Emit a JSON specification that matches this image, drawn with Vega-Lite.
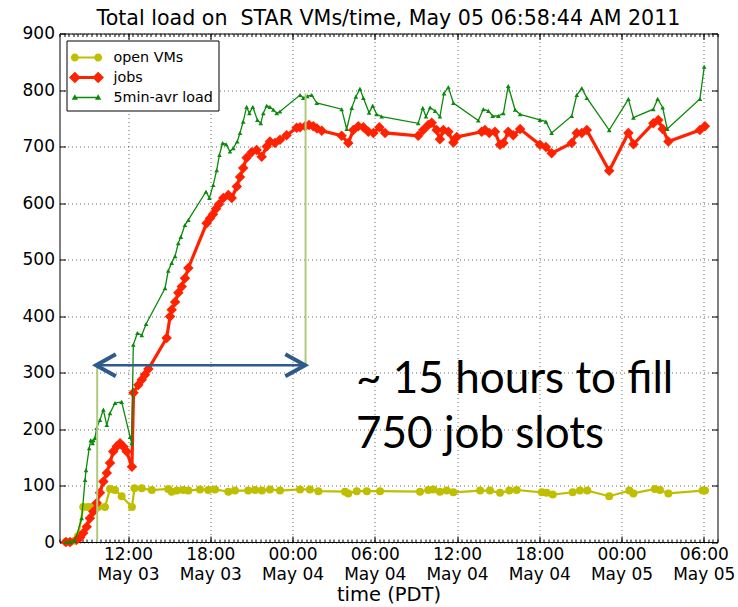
{
  "$schema": "https://vega.github.io/schema/vega-lite/v6.json",
  "width": 658,
  "height": 508.5,
  "autosize": {"type": "none"},
  "padding": {"left": 59.5, "top": 33.5, "right": 20.5, "bottom": 65},
  "background": "white",
  "title": {"text": "Total load on\u00a0 STAR VMs/time, May 05 06:58:44 AM 2011", "font": "DejaVu Sans", "fontSize": 20.6, "fontWeight": "normal", "color": "black", "anchor": "middle", "offset": -5},
  "config": {
    "view": {"stroke": "black", "strokeWidth": 1},
    "axis": {"labelFont": "DejaVu Sans", "labelFontSize": 17, "labelColor": "black", "tickColor": "black", "tickWidth": 1, "domain": false, "grid": false, "titleFont": "DejaVu Sans", "titleFontSize": 19.5, "titleFontWeight": "normal", "titleColor": "black", "gridColor": "black", "gridDash": [1, 3], "gridOpacity": 0.75, "gridWidth": 0.8, "labelFlush": false, "labelOverlap": false}
  },
  "datasets": {
    "series": [
      {"series": "open VMs", "time": "2011-05-03T07:28:00Z", "value": 0},
      {"series": "open VMs", "time": "2011-05-03T07:46:00Z", "value": 0},
      {"series": "open VMs", "time": "2011-05-03T08:08:00Z", "value": 2},
      {"series": "open VMs", "time": "2011-05-03T08:21:00Z", "value": 10},
      {"series": "open VMs", "time": "2011-05-03T08:44:00Z", "value": 62},
      {"series": "open VMs", "time": "2011-05-03T09:05:00Z", "value": 62},
      {"series": "open VMs", "time": "2011-05-03T09:22:00Z", "value": 62},
      {"series": "open VMs", "time": "2011-05-03T09:49:00Z", "value": 62},
      {"series": "open VMs", "time": "2011-05-03T10:19:00Z", "value": 62},
      {"series": "open VMs", "time": "2011-05-03T10:41:00Z", "value": 94},
      {"series": "open VMs", "time": "2011-05-03T11:03:00Z", "value": 92},
      {"series": "open VMs", "time": "2011-05-03T11:32:00Z", "value": 81},
      {"series": "open VMs", "time": "2011-05-03T12:17:00Z", "value": 62},
      {"series": "open VMs", "time": "2011-05-03T12:28:00Z", "value": 95},
      {"series": "open VMs", "time": "2011-05-03T13:00:00Z", "value": 95},
      {"series": "open VMs", "time": "2011-05-03T13:44:00Z", "value": 92},
      {"series": "open VMs", "time": "2011-05-03T14:56:00Z", "value": 94},
      {"series": "open VMs", "time": "2011-05-03T15:11:00Z", "value": 89},
      {"series": "open VMs", "time": "2011-05-03T15:34:00Z", "value": 91},
      {"series": "open VMs", "time": "2011-05-03T16:02:00Z", "value": 92},
      {"series": "open VMs", "time": "2011-05-03T16:24:00Z", "value": 91},
      {"series": "open VMs", "time": "2011-05-03T17:15:00Z", "value": 93},
      {"series": "open VMs", "time": "2011-05-03T17:51:00Z", "value": 92},
      {"series": "open VMs", "time": "2011-05-03T18:21:00Z", "value": 93},
      {"series": "open VMs", "time": "2011-05-03T19:19:00Z", "value": 89},
      {"series": "open VMs", "time": "2011-05-03T19:48:00Z", "value": 91},
      {"series": "open VMs", "time": "2011-05-03T20:46:00Z", "value": 91},
      {"series": "open VMs", "time": "2011-05-03T21:16:00Z", "value": 92},
      {"series": "open VMs", "time": "2011-05-03T21:46:00Z", "value": 91},
      {"series": "open VMs", "time": "2011-05-03T22:21:00Z", "value": 93},
      {"series": "open VMs", "time": "2011-05-03T23:05:00Z", "value": 91},
      {"series": "open VMs", "time": "2011-05-04T00:33:00Z", "value": 93},
      {"series": "open VMs", "time": "2011-05-04T01:16:00Z", "value": 93},
      {"series": "open VMs", "time": "2011-05-04T01:53:00Z", "value": 90},
      {"series": "open VMs", "time": "2011-05-04T03:50:00Z", "value": 89},
      {"series": "open VMs", "time": "2011-05-04T04:04:00Z", "value": 86},
      {"series": "open VMs", "time": "2011-05-04T04:41:00Z", "value": 90},
      {"series": "open VMs", "time": "2011-05-04T05:25:00Z", "value": 90},
      {"series": "open VMs", "time": "2011-05-04T06:23:00Z", "value": 90},
      {"series": "open VMs", "time": "2011-05-04T09:18:00Z", "value": 89},
      {"series": "open VMs", "time": "2011-05-04T09:54:00Z", "value": 92},
      {"series": "open VMs", "time": "2011-05-04T10:16:00Z", "value": 93},
      {"series": "open VMs", "time": "2011-05-04T10:45:00Z", "value": 89},
      {"series": "open VMs", "time": "2011-05-04T11:15:00Z", "value": 91},
      {"series": "open VMs", "time": "2011-05-04T11:44:00Z", "value": 88},
      {"series": "open VMs", "time": "2011-05-04T13:41:00Z", "value": 91},
      {"series": "open VMs", "time": "2011-05-04T14:24:00Z", "value": 91},
      {"series": "open VMs", "time": "2011-05-04T15:08:00Z", "value": 87},
      {"series": "open VMs", "time": "2011-05-04T15:49:00Z", "value": 91},
      {"series": "open VMs", "time": "2011-05-04T16:21:00Z", "value": 92},
      {"series": "open VMs", "time": "2011-05-04T18:11:00Z", "value": 88},
      {"series": "open VMs", "time": "2011-05-04T18:32:00Z", "value": 87},
      {"series": "open VMs", "time": "2011-05-04T18:59:00Z", "value": 84},
      {"series": "open VMs", "time": "2011-05-04T20:26:00Z", "value": 88},
      {"series": "open VMs", "time": "2011-05-04T20:58:00Z", "value": 91},
      {"series": "open VMs", "time": "2011-05-04T21:30:00Z", "value": 91},
      {"series": "open VMs", "time": "2011-05-04T23:06:00Z", "value": 81},
      {"series": "open VMs", "time": "2011-05-05T00:34:00Z", "value": 91},
      {"series": "open VMs", "time": "2011-05-05T00:52:00Z", "value": 86},
      {"series": "open VMs", "time": "2011-05-05T02:26:00Z", "value": 94},
      {"series": "open VMs", "time": "2011-05-05T02:48:00Z", "value": 92},
      {"series": "open VMs", "time": "2011-05-05T03:25:00Z", "value": 86},
      {"series": "open VMs", "time": "2011-05-05T05:55:00Z", "value": 91},
      {"series": "open VMs", "time": "2011-05-05T06:05:00Z", "value": 91},

      {"series": "jobs", "time": "2011-05-03T07:28:00Z", "value": 0},
      {"series": "jobs", "time": "2011-05-03T07:46:00Z", "value": 0},
      {"series": "jobs", "time": "2011-05-03T08:15:00Z", "value": 4},
      {"series": "jobs", "time": "2011-05-03T08:30:00Z", "value": 8},
      {"series": "jobs", "time": "2011-05-03T08:44:00Z", "value": 16},
      {"series": "jobs", "time": "2011-05-03T08:59:00Z", "value": 27},
      {"series": "jobs", "time": "2011-05-03T09:13:00Z", "value": 42},
      {"series": "jobs", "time": "2011-05-03T09:28:00Z", "value": 54},
      {"series": "jobs", "time": "2011-05-03T09:43:00Z", "value": 69},
      {"series": "jobs", "time": "2011-05-03T09:57:00Z", "value": 87},
      {"series": "jobs", "time": "2011-05-03T10:12:00Z", "value": 107},
      {"series": "jobs", "time": "2011-05-03T10:27:00Z", "value": 122},
      {"series": "jobs", "time": "2011-05-03T10:41:00Z", "value": 140},
      {"series": "jobs", "time": "2011-05-03T10:55:00Z", "value": 160},
      {"series": "jobs", "time": "2011-05-03T11:10:00Z", "value": 169},
      {"series": "jobs", "time": "2011-05-03T11:25:00Z", "value": 175},
      {"series": "jobs", "time": "2011-05-03T11:39:00Z", "value": 169},
      {"series": "jobs", "time": "2011-05-03T11:54:00Z", "value": 160},
      {"series": "jobs", "time": "2011-05-03T12:17:00Z", "value": 133},
      {"series": "jobs", "time": "2011-05-03T12:24:00Z", "value": 264},
      {"series": "jobs", "time": "2011-05-03T12:45:00Z", "value": 278},
      {"series": "jobs", "time": "2011-05-03T13:00:00Z", "value": 287},
      {"series": "jobs", "time": "2011-05-03T13:14:00Z", "value": 296},
      {"series": "jobs", "time": "2011-05-03T13:29:00Z", "value": 306},
      {"series": "jobs", "time": "2011-05-03T14:49:00Z", "value": 361},
      {"series": "jobs", "time": "2011-05-03T15:04:00Z", "value": 399},
      {"series": "jobs", "time": "2011-05-03T15:11:00Z", "value": 411},
      {"series": "jobs", "time": "2011-05-03T15:26:00Z", "value": 425},
      {"series": "jobs", "time": "2011-05-03T15:40:00Z", "value": 441},
      {"series": "jobs", "time": "2011-05-03T15:55:00Z", "value": 452},
      {"series": "jobs", "time": "2011-05-03T16:09:00Z", "value": 467},
      {"series": "jobs", "time": "2011-05-03T16:24:00Z", "value": 485},
      {"series": "jobs", "time": "2011-05-03T17:44:00Z", "value": 564},
      {"series": "jobs", "time": "2011-05-03T17:59:00Z", "value": 573},
      {"series": "jobs", "time": "2011-05-03T18:12:00Z", "value": 580},
      {"series": "jobs", "time": "2011-05-03T18:25:00Z", "value": 590},
      {"series": "jobs", "time": "2011-05-03T18:38:00Z", "value": 598},
      {"series": "jobs", "time": "2011-05-03T18:57:00Z", "value": 609},
      {"series": "jobs", "time": "2011-05-03T19:19:00Z", "value": 614},
      {"series": "jobs", "time": "2011-05-03T19:34:00Z", "value": 609},
      {"series": "jobs", "time": "2011-05-03T19:56:00Z", "value": 629},
      {"series": "jobs", "time": "2011-05-03T20:10:00Z", "value": 646},
      {"series": "jobs", "time": "2011-05-03T20:24:00Z", "value": 662},
      {"series": "jobs", "time": "2011-05-03T20:39:00Z", "value": 680},
      {"series": "jobs", "time": "2011-05-03T21:01:00Z", "value": 690},
      {"series": "jobs", "time": "2011-05-03T21:23:00Z", "value": 694},
      {"series": "jobs", "time": "2011-05-03T21:45:00Z", "value": 682},
      {"series": "jobs", "time": "2011-05-03T22:07:00Z", "value": 700},
      {"series": "jobs", "time": "2011-05-03T22:21:00Z", "value": 709},
      {"series": "jobs", "time": "2011-05-03T22:43:00Z", "value": 706},
      {"series": "jobs", "time": "2011-05-03T23:05:00Z", "value": 712},
      {"series": "jobs", "time": "2011-05-03T23:34:00Z", "value": 720},
      {"series": "jobs", "time": "2011-05-04T00:18:00Z", "value": 733},
      {"series": "jobs", "time": "2011-05-04T00:33:00Z", "value": 734},
      {"series": "jobs", "time": "2011-05-04T00:55:00Z", "value": 736},
      {"series": "jobs", "time": "2011-05-04T01:12:00Z", "value": 738},
      {"series": "jobs", "time": "2011-05-04T01:31:00Z", "value": 736},
      {"series": "jobs", "time": "2011-05-04T01:47:00Z", "value": 732},
      {"series": "jobs", "time": "2011-05-04T02:08:00Z", "value": 728},
      {"series": "jobs", "time": "2011-05-04T03:35:00Z", "value": 719},
      {"series": "jobs", "time": "2011-05-04T04:04:00Z", "value": 706},
      {"series": "jobs", "time": "2011-05-04T04:26:00Z", "value": 729},
      {"series": "jobs", "time": "2011-05-04T04:48:00Z", "value": 736},
      {"series": "jobs", "time": "2011-05-04T05:10:00Z", "value": 734},
      {"series": "jobs", "time": "2011-05-04T05:32:00Z", "value": 726},
      {"series": "jobs", "time": "2011-05-04T05:54:00Z", "value": 724},
      {"series": "jobs", "time": "2011-05-04T06:20:00Z", "value": 734},
      {"series": "jobs", "time": "2011-05-04T06:45:00Z", "value": 724},
      {"series": "jobs", "time": "2011-05-04T09:10:00Z", "value": 719},
      {"series": "jobs", "time": "2011-05-04T09:32:00Z", "value": 729},
      {"series": "jobs", "time": "2011-05-04T09:54:00Z", "value": 738},
      {"series": "jobs", "time": "2011-05-04T10:09:00Z", "value": 742},
      {"series": "jobs", "time": "2011-05-04T10:31:00Z", "value": 729},
      {"series": "jobs", "time": "2011-05-04T10:45:00Z", "value": 713},
      {"series": "jobs", "time": "2011-05-04T11:00:00Z", "value": 729},
      {"series": "jobs", "time": "2011-05-04T11:22:00Z", "value": 726},
      {"series": "jobs", "time": "2011-05-04T11:44:00Z", "value": 707},
      {"series": "jobs", "time": "2011-05-04T11:59:00Z", "value": 717},
      {"series": "jobs", "time": "2011-05-04T13:48:00Z", "value": 726},
      {"series": "jobs", "time": "2011-05-04T14:02:00Z", "value": 729},
      {"series": "jobs", "time": "2011-05-04T14:21:00Z", "value": 724},
      {"series": "jobs", "time": "2011-05-04T14:46:00Z", "value": 726},
      {"series": "jobs", "time": "2011-05-04T15:08:00Z", "value": 703},
      {"series": "jobs", "time": "2011-05-04T15:23:00Z", "value": 706},
      {"series": "jobs", "time": "2011-05-04T15:44:00Z", "value": 726},
      {"series": "jobs", "time": "2011-05-04T16:06:00Z", "value": 720},
      {"series": "jobs", "time": "2011-05-04T16:36:00Z", "value": 731},
      {"series": "jobs", "time": "2011-05-04T18:03:00Z", "value": 703},
      {"series": "jobs", "time": "2011-05-04T18:29:00Z", "value": 699},
      {"series": "jobs", "time": "2011-05-04T18:54:00Z", "value": 688},
      {"series": "jobs", "time": "2011-05-04T20:22:00Z", "value": 706},
      {"series": "jobs", "time": "2011-05-04T20:44:00Z", "value": 724},
      {"series": "jobs", "time": "2011-05-04T21:06:00Z", "value": 724},
      {"series": "jobs", "time": "2011-05-04T21:28:00Z", "value": 729},
      {"series": "jobs", "time": "2011-05-04T23:06:00Z", "value": 657},
      {"series": "jobs", "time": "2011-05-05T00:30:00Z", "value": 724},
      {"series": "jobs", "time": "2011-05-05T00:52:00Z", "value": 704},
      {"series": "jobs", "time": "2011-05-05T02:19:00Z", "value": 741},
      {"series": "jobs", "time": "2011-05-05T02:41:00Z", "value": 747},
      {"series": "jobs", "time": "2011-05-05T03:00:00Z", "value": 731},
      {"series": "jobs", "time": "2011-05-05T03:25:00Z", "value": 709},
      {"series": "jobs", "time": "2011-05-05T05:43:00Z", "value": 729},
      {"series": "jobs", "time": "2011-05-05T06:05:00Z", "value": 736},

      {"series": "5min-avr load", "time": "2011-05-03T07:28:00Z", "value": 0},
      {"series": "5min-avr load", "time": "2011-05-03T07:46:00Z", "value": 0},
      {"series": "5min-avr load", "time": "2011-05-03T08:08:00Z", "value": 2},
      {"series": "5min-avr load", "time": "2011-05-03T08:37:00Z", "value": 42},
      {"series": "5min-avr load", "time": "2011-05-03T08:52:00Z", "value": 110},
      {"series": "5min-avr load", "time": "2011-05-03T08:56:00Z", "value": 127},
      {"series": "5min-avr load", "time": "2011-05-03T09:10:00Z", "value": 166},
      {"series": "5min-avr load", "time": "2011-05-03T09:17:00Z", "value": 180},
      {"series": "5min-avr load", "time": "2011-05-03T09:25:00Z", "value": 175},
      {"series": "5min-avr load", "time": "2011-05-03T09:28:00Z", "value": 180},
      {"series": "5min-avr load", "time": "2011-05-03T09:35:00Z", "value": 184},
      {"series": "5min-avr load", "time": "2011-05-03T09:43:00Z", "value": 202},
      {"series": "5min-avr load", "time": "2011-05-03T09:57:00Z", "value": 216},
      {"series": "5min-avr load", "time": "2011-05-03T10:12:00Z", "value": 234},
      {"series": "5min-avr load", "time": "2011-05-03T10:27:00Z", "value": 207},
      {"series": "5min-avr load", "time": "2011-05-03T10:41:00Z", "value": 228},
      {"series": "5min-avr load", "time": "2011-05-03T11:03:00Z", "value": 246},
      {"series": "5min-avr load", "time": "2011-05-03T11:32:00Z", "value": 248},
      {"series": "5min-avr load", "time": "2011-05-03T12:09:00Z", "value": 186},
      {"series": "5min-avr load", "time": "2011-05-03T12:16:00Z", "value": 175},
      {"series": "5min-avr load", "time": "2011-05-03T12:23:00Z", "value": 349},
      {"series": "5min-avr load", "time": "2011-05-03T12:41:00Z", "value": 370},
      {"series": "5min-avr load", "time": "2011-05-03T13:00:00Z", "value": 366},
      {"series": "5min-avr load", "time": "2011-05-03T13:19:00Z", "value": 386},
      {"series": "5min-avr load", "time": "2011-05-03T14:42:00Z", "value": 449},
      {"series": "5min-avr load", "time": "2011-05-03T14:56:00Z", "value": 480},
      {"series": "5min-avr load", "time": "2011-05-03T15:11:00Z", "value": 494},
      {"series": "5min-avr load", "time": "2011-05-03T15:26:00Z", "value": 506},
      {"series": "5min-avr load", "time": "2011-05-03T15:40:00Z", "value": 529},
      {"series": "5min-avr load", "time": "2011-05-03T15:51:00Z", "value": 540},
      {"series": "5min-avr load", "time": "2011-05-03T16:09:00Z", "value": 561},
      {"series": "5min-avr load", "time": "2011-05-03T16:24:00Z", "value": 570},
      {"series": "5min-avr load", "time": "2011-05-03T17:41:00Z", "value": 620},
      {"series": "5min-avr load", "time": "2011-05-03T17:56:00Z", "value": 609},
      {"series": "5min-avr load", "time": "2011-05-03T18:13:00Z", "value": 632},
      {"series": "5min-avr load", "time": "2011-05-03T18:28:00Z", "value": 658},
      {"series": "5min-avr load", "time": "2011-05-03T18:40:00Z", "value": 685},
      {"series": "5min-avr load", "time": "2011-05-03T18:54:00Z", "value": 706},
      {"series": "5min-avr load", "time": "2011-05-03T19:09:00Z", "value": 704},
      {"series": "5min-avr load", "time": "2011-05-03T19:26:00Z", "value": 691},
      {"series": "5min-avr load", "time": "2011-05-03T19:41:00Z", "value": 697},
      {"series": "5min-avr load", "time": "2011-05-03T19:58:00Z", "value": 709},
      {"series": "5min-avr load", "time": "2011-05-03T20:10:00Z", "value": 724},
      {"series": "5min-avr load", "time": "2011-05-03T20:24:00Z", "value": 744},
      {"series": "5min-avr load", "time": "2011-05-03T20:39:00Z", "value": 770},
      {"series": "5min-avr load", "time": "2011-05-03T20:51:00Z", "value": 759},
      {"series": "5min-avr load", "time": "2011-05-03T21:06:00Z", "value": 770},
      {"series": "5min-avr load", "time": "2011-05-03T21:26:00Z", "value": 747},
      {"series": "5min-avr load", "time": "2011-05-03T21:41:00Z", "value": 741},
      {"series": "5min-avr load", "time": "2011-05-03T21:52:00Z", "value": 759},
      {"series": "5min-avr load", "time": "2011-05-03T22:07:00Z", "value": 772},
      {"series": "5min-avr load", "time": "2011-05-03T22:21:00Z", "value": 770},
      {"series": "5min-avr load", "time": "2011-05-03T22:36:00Z", "value": 765},
      {"series": "5min-avr load", "time": "2011-05-03T22:51:00Z", "value": 759},
      {"series": "5min-avr load", "time": "2011-05-03T23:05:00Z", "value": 762},
      {"series": "5min-avr load", "time": "2011-05-04T00:33:00Z", "value": 791},
      {"series": "5min-avr load", "time": "2011-05-04T00:47:00Z", "value": 786},
      {"series": "5min-avr load", "time": "2011-05-04T01:05:00Z", "value": 789},
      {"series": "5min-avr load", "time": "2011-05-04T01:24:00Z", "value": 791},
      {"series": "5min-avr load", "time": "2011-05-04T01:46:00Z", "value": 777},
      {"series": "5min-avr load", "time": "2011-05-04T03:35:00Z", "value": 766},
      {"series": "5min-avr load", "time": "2011-05-04T03:57:00Z", "value": 731},
      {"series": "5min-avr load", "time": "2011-05-04T04:19:00Z", "value": 768},
      {"series": "5min-avr load", "time": "2011-05-04T04:37:00Z", "value": 788},
      {"series": "5min-avr load", "time": "2011-05-04T04:55:00Z", "value": 802},
      {"series": "5min-avr load", "time": "2011-05-04T05:10:00Z", "value": 786},
      {"series": "5min-avr load", "time": "2011-05-04T05:35:00Z", "value": 760},
      {"series": "5min-avr load", "time": "2011-05-04T05:51:00Z", "value": 772},
      {"series": "5min-avr load", "time": "2011-05-04T06:08:00Z", "value": 757},
      {"series": "5min-avr load", "time": "2011-05-04T06:30:00Z", "value": 753},
      {"series": "5min-avr load", "time": "2011-05-04T09:10:00Z", "value": 741},
      {"series": "5min-avr load", "time": "2011-05-04T09:30:00Z", "value": 768},
      {"series": "5min-avr load", "time": "2011-05-04T09:44:00Z", "value": 753},
      {"series": "5min-avr load", "time": "2011-05-04T10:02:00Z", "value": 769},
      {"series": "5min-avr load", "time": "2011-05-04T10:24:00Z", "value": 763},
      {"series": "5min-avr load", "time": "2011-05-04T10:45:00Z", "value": 753},
      {"series": "5min-avr load", "time": "2011-05-04T11:03:00Z", "value": 794},
      {"series": "5min-avr load", "time": "2011-05-04T11:22:00Z", "value": 805},
      {"series": "5min-avr load", "time": "2011-05-04T11:44:00Z", "value": 777},
      {"series": "5min-avr load", "time": "2011-05-04T13:33:00Z", "value": 746},
      {"series": "5min-avr load", "time": "2011-05-04T13:55:00Z", "value": 766},
      {"series": "5min-avr load", "time": "2011-05-04T14:17:00Z", "value": 763},
      {"series": "5min-avr load", "time": "2011-05-04T14:36:00Z", "value": 754},
      {"series": "5min-avr load", "time": "2011-05-04T15:01:00Z", "value": 754},
      {"series": "5min-avr load", "time": "2011-05-04T15:23:00Z", "value": 759},
      {"series": "5min-avr load", "time": "2011-05-04T15:44:00Z", "value": 807},
      {"series": "5min-avr load", "time": "2011-05-04T16:14:00Z", "value": 765},
      {"series": "5min-avr load", "time": "2011-05-04T16:36:00Z", "value": 757},
      {"series": "5min-avr load", "time": "2011-05-04T18:03:00Z", "value": 747},
      {"series": "5min-avr load", "time": "2011-05-04T18:29:00Z", "value": 744},
      {"series": "5min-avr load", "time": "2011-05-04T18:54:00Z", "value": 724},
      {"series": "5min-avr load", "time": "2011-05-04T20:22:00Z", "value": 754},
      {"series": "5min-avr load", "time": "2011-05-04T20:44:00Z", "value": 791},
      {"series": "5min-avr load", "time": "2011-05-04T21:06:00Z", "value": 803},
      {"series": "5min-avr load", "time": "2011-05-04T21:28:00Z", "value": 786},
      {"series": "5min-avr load", "time": "2011-05-04T23:06:00Z", "value": 729},
      {"series": "5min-avr load", "time": "2011-05-05T00:30:00Z", "value": 784},
      {"series": "5min-avr load", "time": "2011-05-05T00:52:00Z", "value": 751},
      {"series": "5min-avr load", "time": "2011-05-05T02:19:00Z", "value": 766},
      {"series": "5min-avr load", "time": "2011-05-05T02:38:00Z", "value": 784},
      {"series": "5min-avr load", "time": "2011-05-05T03:00:00Z", "value": 769},
      {"series": "5min-avr load", "time": "2011-05-05T03:20:00Z", "value": 731},
      {"series": "5min-avr load", "time": "2011-05-05T05:43:00Z", "value": 784},
      {"series": "5min-avr load", "time": "2011-05-05T06:02:00Z", "value": 841}
    ],
    "vlines": [
      {"time": "2011-05-03T09:45:00Z", "value": 0, "value2": 313},
      {"time": "2011-05-04T00:57:00Z", "value": 313, "value2": 794}
    ],
    "arrow": [
      {"t0": "2011-05-03T09:40:00Z", "t1": "2011-05-04T00:55:00Z", "value": 313}
    ],
    "heads": [
      {"time": "2011-05-03T09:40:00Z", "value": 313, "end": "left"},
      {"time": "2011-05-04T00:55:00Z", "value": 313, "end": "right"}
    ],
    "notes": [
      {"time": "2011-05-04T04:38:00Z", "value": 264, "label": "~ 15 hours to fill"},
      {"time": "2011-05-04T04:38:00Z", "value": 167, "label": "750 job slots"}
    ]
  },
  "resolve": {"scale": {"x": "shared", "y": "shared"}, "axis": {"x": "independent", "y": "independent"}},
  "layer": [
    {
      "data": {"name": "series"},
      "transform": [{"filter": "datum.series === 'open VMs'"}],
      "mark": {"type": "line", "color": "#bfbf00", "strokeWidth": 2.2},
      "encoding": {
        "x": {"field": "time", "type": "temporal",
          "scale": {"type": "utc", "domain": [{"year": 2011, "month": 5, "date": 3, "hours": 7, "utc": true}, {"year": 2011, "month": 5, "date": 5, "hours": 7, "utc": true}]},
          "axis": {"orient": "bottom", "title": null, "labels": false, "grid": false, "ticks": true, "tickSize": -6,
            "values": [{"year": 2011, "month": 5, "date": 3, "hours": 12, "utc": true}, {"year": 2011, "month": 5, "date": 3, "hours": 18, "utc": true}, {"year": 2011, "month": 5, "date": 4, "hours": 0, "utc": true}, {"year": 2011, "month": 5, "date": 4, "hours": 6, "utc": true}, {"year": 2011, "month": 5, "date": 4, "hours": 12, "utc": true}, {"year": 2011, "month": 5, "date": 4, "hours": 18, "utc": true}, {"year": 2011, "month": 5, "date": 5, "hours": 0, "utc": true}, {"year": 2011, "month": 5, "date": 5, "hours": 6, "utc": true}]}},
        "y": {"field": "value", "type": "quantitative", "scale": {"domain": [0, 900], "nice": false},
          "axis": {"orient": "left", "title": null, "labels": false, "grid": false, "ticks": true, "tickSize": -6, "values": [0, 100, 200, 300, 400, 500, 600, 700, 800, 900]}}
      }
    },
    {
      "data": {"name": "series"},
      "transform": [{"filter": "datum.series === 'open VMs'"}],
      "mark": {"type": "point", "shape": "circle", "size": 64, "filled": true, "opacity": 1, "color": "#bfbf00"},
      "encoding": {
        "x": {"field": "time", "type": "temporal",
          "axis": {"orient": "bottom", "title": null, "labels": false, "grid": false, "ticks": true, "tickSize": -3, "tickCount": {"interval": "minutes", "step": 20}}},
        "y": {"field": "value", "type": "quantitative",
          "axis": {"orient": "right", "title": null, "labels": false, "grid": false, "ticks": true, "tickSize": -6, "values": [0, 100, 200, 300, 400, 500, 600, 700, 800, 900]}}
      }
    },
    {
      "data": {"name": "series"},
      "transform": [{"filter": "datum.series === 'jobs'"}],
      "mark": {"type": "line", "color": "#ff2200", "strokeWidth": 3.2},
      "encoding": {
        "x": {"field": "time", "type": "temporal", "axis": null},
        "y": {"field": "value", "type": "quantitative", "axis": null}
      }
    },
    {
      "data": {"name": "series"},
      "transform": [{"filter": "datum.series === 'jobs'"}],
      "mark": {"type": "point", "shape": "diamond", "size": 110, "filled": true, "opacity": 1, "color": "#ff2200"},
      "encoding": {
        "x": {"field": "time", "type": "temporal", "axis": null},
        "y": {"field": "value", "type": "quantitative", "axis": null}
      }
    },
    {
      "data": {"name": "series"},
      "transform": [{"filter": "datum.series === '5min-avr load'"}],
      "mark": {"type": "line", "color": "#0a8a0a", "strokeWidth": 1.3},
      "encoding": {
        "x": {"field": "time", "type": "temporal", "axis": null},
        "y": {"field": "value", "type": "quantitative", "axis": null}
      }
    },
    {
      "data": {"name": "series"},
      "transform": [{"filter": "datum.series === '5min-avr load'"}],
      "mark": {"type": "point", "shape": "triangle-up", "size": 22, "filled": true, "opacity": 1, "color": "#0a8a0a"},
      "encoding": {
        "x": {"field": "time", "type": "temporal", "axis": null},
        "y": {"field": "value", "type": "quantitative", "axis": null}
      }
    },
    {
      "data": {"name": "series"},
      "transform": [{"filter": "false"}],
      "mark": {"type": "point", "filled": true, "opacity": 1},
      "encoding": {
        "color": {"field": "series", "type": "nominal",
          "scale": {"domain": ["open VMs", "jobs", "5min-avr load"], "range": ["#bfbf00", "#ff2200", "#0a8a0a"]},
          "legend": {"title": null, "orient": "top-left", "offset": 7, "padding": 5, "strokeColor": "black", "fillColor": "white", "cornerRadius": 0,
            "labelFont": "DejaVu Sans", "labelFontSize": 14.3, "labelColor": "black",
            "symbolSize": 544, "symbolOffset": 3, "labelOffset": 15, "rowPadding": 0, "symbolOpacity": 1, "symbolStrokeWidth": 0}},
        "shape": {"field": "series", "type": "nominal",
          "scale": {"domain": ["open VMs", "jobs", "5min-avr load"],
            "range": [
              "M -1 -0.085 L 1 -0.085 L 1 0.085 L -1 0.085 Z M -1.34 0 A 0.34 0.34 0 1 1 -0.66 0 A 0.34 0.34 0 1 1 -1.34 0 Z M 0.66 0 A 0.34 0.34 0 1 1 1.34 0 A 0.34 0.34 0 1 1 0.66 0 Z",
              "M -1 -0.13 L 1 -0.13 L 1 0.13 L -1 0.13 Z M -1.5 0 L -1 -0.5 L -0.5 0 L -1 0.5 Z M 0.5 0 L 1 -0.5 L 1.5 0 L 1 0.5 Z",
              "M -1 -0.055 L 1 -0.055 L 1 0.055 L -1 0.055 Z M -1.27 0.2 L -1 -0.27 L -0.73 0.2 Z M 0.73 0.2 L 1 -0.27 L 1.27 0.2 Z"
            ]},
          "legend": {"title": null, "orient": "top-left", "offset": 7, "padding": 5, "strokeColor": "black", "fillColor": "white", "cornerRadius": 0,
            "labelFont": "DejaVu Sans", "labelFontSize": 14.3, "labelColor": "black",
            "symbolSize": 544, "symbolOffset": 3, "labelOffset": 15, "rowPadding": 0, "symbolOpacity": 1, "symbolStrokeWidth": 0}}
      }
    },
    {
      "data": {"name": "vlines"},
      "mark": {"type": "rule", "color": "#afc97d", "strokeWidth": 2},
      "encoding": {
        "x": {"field": "time", "type": "temporal",
          "axis": {"orient": "bottom", "title": "time (PDT)", "grid": true, "ticks": false,
            "values": [{"year": 2011, "month": 5, "date": 3, "hours": 12, "utc": true}, {"year": 2011, "month": 5, "date": 3, "hours": 18, "utc": true}, {"year": 2011, "month": 5, "date": 4, "hours": 0, "utc": true}, {"year": 2011, "month": 5, "date": 4, "hours": 6, "utc": true}, {"year": 2011, "month": 5, "date": 4, "hours": 12, "utc": true}, {"year": 2011, "month": 5, "date": 4, "hours": 18, "utc": true}, {"year": 2011, "month": 5, "date": 5, "hours": 0, "utc": true}, {"year": 2011, "month": 5, "date": 5, "hours": 6, "utc": true}],
            "labelExpr": "[utcFormat(datum.value, '%H:%M'), utcFormat(datum.value, '%b %d')]",
            "labelLineHeight": 20.6, "labelPadding": 4, "labelBaseline": "top", "titlePadding": 3}},
        "y": {"field": "value", "type": "quantitative",
          "axis": {"orient": "left", "title": null, "grid": true, "ticks": false, "labelPadding": 5, "values": [0, 100, 200, 300, 400, 500, 600, 700, 800, 900]}},
        "y2": {"field": "value2"}
      }
    },
    {
      "data": {"name": "arrow"},
      "mark": {"type": "rule", "color": "#2f5b8c", "strokeWidth": 2.5},
      "encoding": {
        "x": {"field": "t0", "type": "temporal",
          "axis": {"orient": "top", "title": null, "labels": false, "grid": false, "ticks": true, "tickSize": -6,
            "values": [{"year": 2011, "month": 5, "date": 3, "hours": 12, "utc": true}, {"year": 2011, "month": 5, "date": 3, "hours": 18, "utc": true}, {"year": 2011, "month": 5, "date": 4, "hours": 0, "utc": true}, {"year": 2011, "month": 5, "date": 4, "hours": 6, "utc": true}, {"year": 2011, "month": 5, "date": 4, "hours": 12, "utc": true}, {"year": 2011, "month": 5, "date": 4, "hours": 18, "utc": true}, {"year": 2011, "month": 5, "date": 5, "hours": 0, "utc": true}, {"year": 2011, "month": 5, "date": 5, "hours": 6, "utc": true}]}},
        "x2": {"field": "t1"},
        "y": {"field": "value", "type": "quantitative", "axis": null}
      }
    },
    {
      "data": {"name": "heads"},
      "transform": [{"filter": "datum.end === 'left'"}],
      "mark": {"type": "point", "shape": "M 1.8 -1 L 0 0 L 1.8 1", "size": 484, "filled": false, "stroke": "#2f5b8c", "strokeWidth": 4, "opacity": 1, "strokeJoin": "miter"},
      "encoding": {
        "x": {"field": "time", "type": "temporal",
          "axis": {"orient": "top", "title": null, "labels": false, "grid": false, "ticks": true, "tickSize": -3, "tickCount": {"interval": "minutes", "step": 20}}},
        "y": {"field": "value", "type": "quantitative", "axis": null}
      }
    },
    {
      "data": {"name": "heads"},
      "transform": [{"filter": "datum.end === 'right'"}],
      "mark": {"type": "point", "shape": "M -1.8 -1 L 0 0 L -1.8 1", "size": 484, "filled": false, "stroke": "#2f5b8c", "strokeWidth": 4, "opacity": 1, "strokeJoin": "miter"},
      "encoding": {
        "x": {"field": "time", "type": "temporal", "axis": null},
        "y": {"field": "value", "type": "quantitative", "axis": null}
      }
    },
    {
      "data": {"name": "notes"},
      "mark": {"type": "text", "font": "Lato", "fontSize": 44, "align": "left", "baseline": "alphabetic", "color": "black"},
      "encoding": {
        "x": {"field": "time", "type": "temporal", "axis": null},
        "y": {"field": "value", "type": "quantitative", "axis": null},
        "text": {"field": "label", "type": "nominal"}
      }
    }
  ]
}
